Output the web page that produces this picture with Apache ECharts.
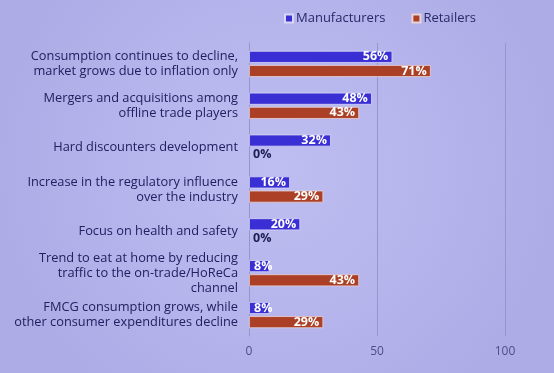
<!DOCTYPE html>
<html><head><meta charset="utf-8">
<script src="https://cdn.jsdelivr.net/npm/echarts@6/dist/echarts.min.js"></script>
<style>html,body{margin:0;padding:0;background:#b8b7ed}#c{width:554px;height:373px}</style>
</head><body><div id="c"></div>
<script>
const categories = [
  "Consumption continues to decline,\nmarket grows due to inflation only",
  "Mergers and acquisitions among\noffline trade players",
  "Hard discounters development",
  "Increase in the regulatory influence\nover the industry",
  "Focus on health and safety",
  "Trend to eat at home by reducing\ntraffic to the on-trade/HoReCa\nchannel",
  "FMCG consumption grows, while\nother consumer expenditures decline"
];
const manufacturers = [56, 48, 32, 16, 20, 8, 8];
const retailers = [71, 43, 0, 29, 0, 43, 29];
const seriesNames = ["Manufacturers", "Retailers"];
const xTicks = [0, 50, 100];

function items(vals) {
  return vals.map(v => {
    if (v === 0) return {value: v, itemStyle: {borderWidth: 0}, label: {position: 'right', distance: 4, color: '#1c1d55'}};
    if (v < 12) return {value: v, label: {position: 'insideLeft', distance: 5}};
    return v;
  });
}
const chart = echarts.init(document.getElementById('c'));
const font = "'Open Sans', sans-serif";
chart.setOption({
  backgroundColor: {type: 'radial', x: 0.5, y: 0.45, r: 0.75,
    colorStops: [{offset: 0, color: '#bfbef2'}, {offset: 1, color: '#adace6'}]},
  textStyle: {fontFamily: font},
  legend: {
    top: 7, left: 279, itemWidth: 8, itemHeight: 8, itemGap: 26, icon: 'rect',
    textStyle: {fontSize: 13, color: '#27296a', fontFamily: font, padding: [0, 0, 0, -2]},
    data: seriesNames
  },
  grid: {left: 249, right: 49, top: 43, bottom: 37},
  xAxis: {
    type: 'value', min: 0, max: 100, interval: 50,
    axisLine: {show: false}, axisTick: {show: false},
    splitLine: {lineStyle: {color: '#9796c8', width: 1}},
    axisLabel: {color: '#4c4f86', fontSize: 12, margin: 10,
      formatter: v => xTicks.includes(v) ? String(v) : ''}
  },
  yAxis: {
    type: 'category', inverse: true, data: categories,
    axisTick: {show: false},
    axisLine: {show: true, lineStyle: {color: '#9796c8'}},
    axisLabel: {interval: 0, color: '#1f2160', fontSize: 12.8, lineHeight: 15, margin: 11, align: 'right', padding: [0, 0, 5, 0]}
  },
  series: [
    {name: seriesNames[0], type: 'bar', data: items(manufacturers), barWidth: 12, barGap: '18%',
     itemStyle: {color: '#3a2fd4', borderColor: '#d9d6f7', borderWidth: 0.8},
     label: {show: true, position: 'insideRight', distance: 4, formatter: '{c}%', color: '#ffffff', fontSize: 12.5, fontWeight: 'bold', fontFamily: font}},
    {name: seriesNames[1], type: 'bar', data: items(retailers), barWidth: 12,
     itemStyle: {color: '#ac4026', borderColor: '#ead3d6', borderWidth: 0.8},
     label: {show: true, position: 'insideRight', distance: 4, formatter: '{c}%', color: '#ffffff', fontSize: 12.5, fontWeight: 'bold', fontFamily: font}}
  ]
});
</script></body></html>
